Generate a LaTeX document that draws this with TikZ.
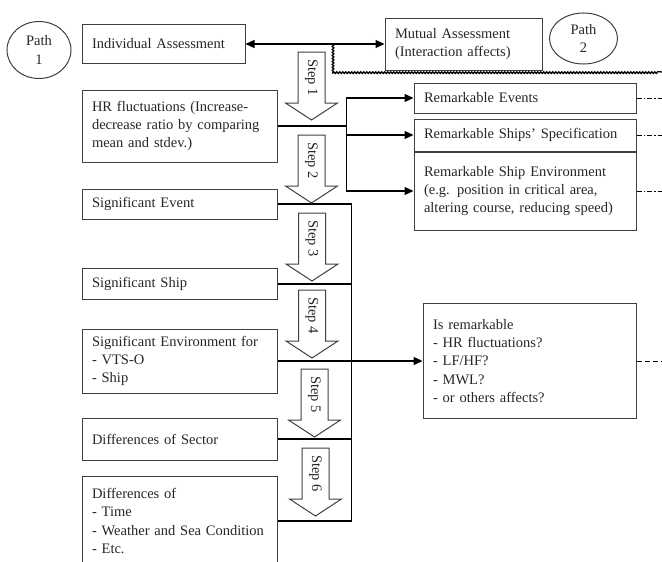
\documentclass[tikz,border=0pt]{standalone}
\usepackage{fontspec}
\setmainfont{Liberation Serif}
\usetikzlibrary{shapes.geometric,arrows.meta,decorations.pathmorphing}

\begin{document}
\begin{tikzpicture}[x=1pt, y=-1pt, every node/.style={font=\fontsize{14.5}{18.3}\selectfont, text=black!85},
    box/.style={draw=black!75, line width=1pt, align=left, inner xsep=10pt, inner ysep=0pt},
    leftbox/.style={box, text width=175pt},
    rightbox/.style={box, text width=202pt},
    pathmark/.style={draw=black!75, line width=1pt, ellipse, align=center, inner sep=0pt},
    conn/.style={line width=1.3pt},
    tip/.style={-{Triangle[length=9pt,width=8pt]}},
    wavy/.style={line width=1.3pt, decorate, decoration={snake, amplitude=0.8pt, segment length=3pt}},
    dashdot/.style={line width=1pt, dash pattern=on 5pt off 2pt on 1.5pt off 2pt},
    dashline/.style={line width=1pt, dash pattern=on 5pt off 3pt}]
    \useasboundingbox (0,0) rectangle (662,562);

    % path markers
    \node[pathmark, minimum width=64pt, minimum height=57pt] (path1) at (39,50) {Path\\1};
    \node[pathmark, minimum width=68pt, minimum height=51pt] (path2) at (583.5,38.5) {Path\\2};

    % top row
    \node[box, text width=143pt, minimum height=39pt] (indiv) at (163.5,44) {Individual Assessment};
    \node[box, text width=137pt, minimum height=52pt] (mutual) at (463.5,44) {Mutual Assessment\\(Interaction affects)};

    % left column
    \node[leftbox, minimum height=72pt] (hr) at (179.5,126) {HR fluctuations (Increase-\\decrease ratio by comparing\\mean and stdev.)};
    \node[leftbox, minimum height=30pt] (event) at (179.5,204) {Significant Event};
    \node[leftbox, minimum height=31pt] (ship) at (179.5,284) {Significant Ship};
    \node[leftbox, minimum height=64pt] (env) at (179.5,361) {Significant Environment for\\- VTS-O\\- Ship};
    \node[leftbox, minimum height=42pt] (sector) at (179.5,439) {Differences of Sector};
    \node[leftbox, minimum height=90pt] (diff) at (179.5,521) {Differences of\\- Time\\- Weather and Sea Condition\\- Etc.};

    % right column
    \node[rightbox, minimum height=30pt] (events) at (525,98) {Remarkable Events};
    \node[rightbox, minimum height=32pt] (spec) at (525,135) {Remarkable Ships' Specification};
    \node[rightbox, minimum height=78pt] (envr) at (525,191) {Remarkable Ship Environment\\(e.g. position in critical area,\\altering course, reducing speed)};
    \node[box, text width=193pt, minimum height=115pt] (remark) at (529.5,361) {Is remarkable\\- HR fluctuations?\\- LF/HF?\\- MWL?\\- or others affects?};

    \coordinate (wavetop) at (333,44);
    \coordinate (edge) at (662,72);

    % connectors
    \draw[conn, {Triangle[length=9pt,width=8pt]}-{Triangle[length=9pt,width=8pt]}] (indiv.east) -- (mutual.west);
    \draw[wavy] (wavetop) |- (edge);

    \draw[conn] (hr.east) -- ++(69,0) coordinate (split);
    \draw[conn, tip] (split) |- (events.west);
    \draw[conn, tip] (split) |- (spec.west);
    \draw[conn, tip] (split) |- (envr.west);

    \draw[conn] (event.east) -- ++(74,0) coordinate (rail) |- (diff.east);
    \draw[conn] (ship.east) -- (ship.east -| rail);
    \draw[conn] (sector.east) -- (sector.east -| rail);
    \draw[conn, tip] (env.east) -- (remark.west);

    \draw[dashdot] (events.east) -- (events.east -| edge);
    \draw[dashdot] (spec.east) -- (spec.east -| edge);
    \draw[dashdot] (envr.east) -- (envr.east -| edge);
    \draw[dashline] (remark.east) -- (remark.east -| edge);

    % step arrows
    \foreach \n/\x/\y in {1/311.5/52, 2/311.5/135, 3/312/213, 4/312/290, 5/314.5/369, 6/315.5/448} {
        \draw[draw=black!75, line width=1pt, fill=white] (\x-13.5,\y) -- (\x+13.5,\y) -- (\x+13.5,\y+51) -- (\x+26,\y+51) -- (\x,\y+68) -- (\x-26,\y+51) -- (\x-13.5,\y+51) -- cycle;
        \node[rotate=-90] (step\n) at (\x,\y+25.5) {Step \n};
    }
\end{tikzpicture}
\end{document}
